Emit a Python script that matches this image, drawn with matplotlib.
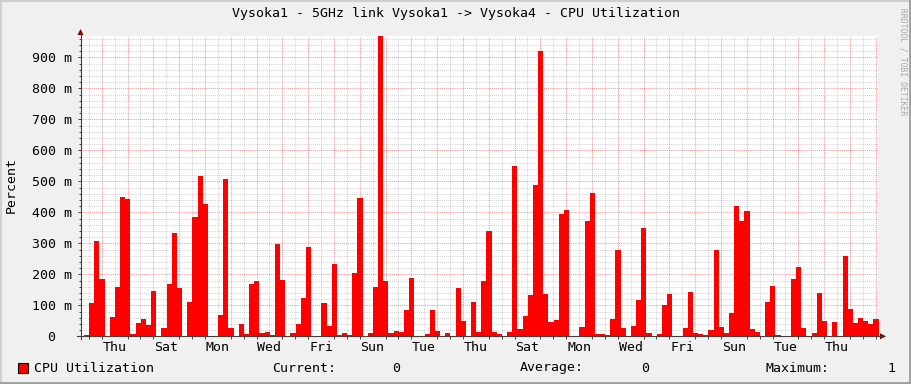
import numpy as np
import matplotlib
matplotlib.use('Agg')
import matplotlib.pyplot as plt
from matplotlib.patches import Polygon, Rectangle
from matplotlib.lines import Line2D

plt.rcParams['font.family'] = ['DejaVu Sans Mono']

# CPU utilisation, milli-percent, one value every 0.2 day (4.8 h)
cpu_m = [
    4, 106, 306, 184, 0, 62, 159, 451, 442, 8,
    42, 55, 37, 145, 0, 27, 168, 333, 156, 0,
    110, 384, 517, 426, 0, 0, 68, 506, 26, 0,
    39, 9, 168, 177, 11, 13, 4, 297, 181, 0,
    10, 40, 124, 287, 0, 0, 107, 33, 232, 4,
    10, 4, 203, 445, 0, 10, 159, 968, 177, 10,
    16, 14, 84, 187, 0, 0, 8, 84, 17, 0,
    11, 0, 156, 49, 0, 111, 14, 178, 340, 13,
    8, 0, 13, 551, 23, 65, 132, 487, 922, 135,
    45, 52, 395, 406, 0, 0, 29, 371, 464, 8,
    8, 4, 56, 277, 26, 0, 32, 116, 348, 10,
    0, 6, 100, 135, 0, 0, 26, 142, 10, 6,
    4, 19, 277, 29, 11, 74, 422, 371, 403, 23,
    13, 0, 110, 161, 3, 0, 0, 184, 223, 26,
    0, 10, 139, 48, 0, 45, 0, 258, 87, 42,
    58, 48, 39, 55,
]
step_days = 0.2
data_start = -0.686          # days relative to the first midnight shown
day_names = ['Thu', 'Sat', 'Mon', 'Wed', 'Fri', 'Sun', 'Tue', 'Thu',
             'Sat', 'Mon', 'Wed', 'Fri', 'Sun', 'Tue', 'Thu']
y_top = 970
legend_name = 'CPU Utilization'
cur_val, avg_val, max_val = '0', '0', '1'

W, H = 911, 384
fig = plt.figure(figsize=(W / 100, H / 100), dpi=100)
fig.patch.set_facecolor('#F0F0F0')

def fx(px):
    return px / W

def fy(py):
    return 1 - py / H

# plot area in pixels
L, R, T, B = 80.5, 878, 35.7, 336.3
ax = fig.add_axes([fx(L), fy(B), fx(R) - fx(L), fy(T) - fy(B)])
ax.set_facecolor('white')
for s in ax.spines.values():
    s.set_visible(False)

day_px = 25.8
x_left = -(101.7 - L) / day_px
x_right = x_left + (R - L) / day_px
ax.set_xlim(x_left, x_right)
ax.set_ylim(0, y_top)

# grid
dots = (0, (1, 1))
for d in np.arange(-0.5, x_right, 0.5):
    if d < x_left:
        continue
    major = float(d).is_integer()
    ax.axvline(d, color='#E50000' if major else '#8F8F8F',
               alpha=0.38 if major else 0.38, lw=0.75, ls=dots, zorder=1)
for v in range(20, y_top, 20):
    major = v % 100 == 0
    ax.axhline(v, color='#E50000' if major else '#8F8F8F',
               alpha=0.38 if major else 0.38, lw=0.75, ls=dots, zorder=1)

# the area, drawn as steps
vals = np.array(cpu_m, dtype=float)
edges = data_start + step_days * np.arange(len(vals) + 1)
ax.fill_between(edges, np.append(vals, vals[-1]), step='post',
                color='#FF0000', lw=0, zorder=2)

# ticks and labels
label_pos = 0.5 + 2 * np.arange(len(day_names))
ax.set_xticks(label_pos, day_names)
ax.set_xticks(np.arange(np.ceil(x_left * 2) / 2, x_right, 0.5), minor=True)
ax.tick_params(axis='x', which='major', length=0, pad=3.6, labelsize=9.5)
ax.tick_params(axis='x', which='minor', length=2, width=0.7,
               color='#404040', direction='out')

yt = list(range(0, 1000, 100))
ylabels = ['%3d m' % v if v else '  0' for v in yt]
ax.set_yticks(yt, ylabels)
for lab in ax.get_yticklabels():
    lab.set_horizontalalignment('left')
ax.set_yticks(range(0, y_top, 20), minor=True)
ax.tick_params(axis='y', which='major', length=2.2, width=0.7,
               color='#404040', pad=32.4, labelsize=9.5)
ax.tick_params(axis='y', which='minor', length=1.4, width=0.7,
               color='#404040')

# axis lines and arrows
fig.add_artist(Line2D([fx(L), fx(L)], [fy(B + 3), fy(31)],
                      color='#404040', lw=0.8))
fig.add_artist(Line2D([fx(77), fx(882)], [fy(B), fy(B)],
                      color='#404040', lw=0.8))
fig.add_artist(Polygon([[fx(L - 3), fy(35)], [fx(L + 3), fy(35)],
                        [fx(L), fy(29)]], closed=True,
                       color='#7F0000', lw=0))
fig.add_artist(Polygon([[fx(880), fy(B - 3)], [fx(880), fy(B + 3)],
                        [fx(886), fy(B)]], closed=True,
                       color='#7F0000', lw=0))

# frame shading
fig.add_artist(Line2D([0, 1], [fy(0.8), fy(0.8)], color='#CFCFCF', lw=1.5))
fig.add_artist(Line2D([fx(0.8), fx(0.8)], [0, 1], color='#CFCFCF', lw=1.5))
fig.add_artist(Line2D([0, 1], [fy(H - 1.2), fy(H - 1.2)], color='#9E9E9E', lw=2))
fig.add_artist(Line2D([fx(W - 1.2), fx(W - 1.2)], [0, 1], color='#9E9E9E', lw=2))

# texts
fig.text(0.5, fy(14), 'Vysoka1 - 5GHz link Vysoka1 -> Vysoka4 - CPU Utilization',
         ha='center', va='center', fontsize=9.5)
fig.text(fx(11.5), fy(185), 'Percent', rotation=90, ha='center', va='center',
         fontsize=9.5)
fig.text(fx(902.5), fy(62), 'RRDTOOL / TOBI OETIKER', rotation=270,
         ha='center', va='center', fontsize=5.8, color='#A8A8A8')

ly = fy(368)
fig.add_artist(Rectangle((fx(17.5), fy(372.5)), fx(10), 10 / H,
                         facecolor='#FF0000', edgecolor='black', lw=0.8))
fig.text(fx(34.5), ly, legend_name, ha='left', va='center', fontsize=9.5)
fig.text(fx(272.5), ly, 'Current:', ha='left', va='center', fontsize=9.5)
fig.text(fx(392.5), ly, cur_val, ha='left', va='center', fontsize=9.5)
fig.text(fx(519.5), ly, 'Average:', ha='left', va='center', fontsize=9.5)
fig.text(fx(641.5), ly, avg_val, ha='left', va='center', fontsize=9.5)
fig.text(fx(765.5), ly, 'Maximum:', ha='left', va='center', fontsize=9.5)
fig.text(fx(887.5), ly, max_val, ha='left', va='center', fontsize=9.5)

fig.savefig('out.png', dpi=100, facecolor=fig.get_facecolor())
